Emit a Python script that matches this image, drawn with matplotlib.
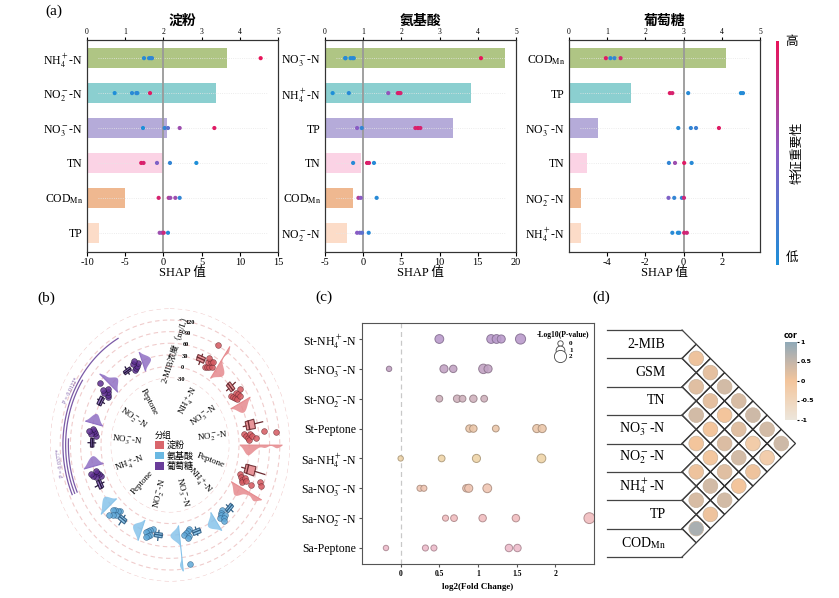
import numpy as np
import matplotlib
matplotlib.use('Agg')
import matplotlib.pyplot as plt
import matplotlib.colors as mcolors
from matplotlib.patches import Patch, Polygon

plt.rcParams['font.family'] = ['Liberation Serif', 'Noto Sans CJK SC']
plt.rcParams['mathtext.fontset'] = 'stix'
plt.rcParams['axes.linewidth'] = 0.8
plt.rcParams['axes.unicode_minus'] = False

NH4 = r'NH$_4^+$-N'
NO3 = r'NO$_3^-$-N'
NO2 = r'NO$_2^-$-N'
COD = r'COD$_{\rm Mn}$'

# ---------------- (a) SHAP data ----------------
titles_a = ['淀粉', '氨基酸', '葡萄糖']
feats_a = [[NH4, NO2, NO3, 'TN', COD, 'TP'],
           [NO3, NH4, 'TP', 'TN', COD, NO2],
           [COD, 'TP', NO3, 'TN', NO2, NH4]]
imp_a = [[3.66, 3.37, 2.10, 1.99, 1.00, 0.31],
         [4.72, 3.81, 3.35, 0.93, 0.74, 0.58],
         [4.10, 1.61, 0.76, 0.48, 0.31, 0.31]]
shap_st = [[-2.54, -1.88, -1.65, -1.49, 12.73],
           [-6.38, -4.11, -3.54, -3.41, -1.75],
           [-2.67, 0.17, 0.60, 2.13, 6.67],
           [-2.9, -2.6, -0.84, 0.86, 4.31],
           [-0.62, 0.69, 0.91, 1.56, 2.13],
           [-0.49, -0.18, 0.04, 0.60]]
fv_st = [[0.05, 0.1, 0.0, 0.1, 1.0],
         [0.0, 0.05, 0.1, 0.05, 0.95],
         [0.0, 0.1, 0.3, 0.6, 0.95],
         [0.95, 0.9, 0.45, 0.1, 0.0],
         [0.9, 0.7, 0.6, 0.6, 0.1],
         [0.6, 0.6, 0.85, 0.05]]
shap_aa = [[-2.36, -2.31, -1.66, -1.40, -1.23, 15.41],
           [-4.0, -1.88, 3.28, 4.53, 4.75, 4.88],
           [-0.80, -0.19, 6.83, 7.17, 7.48],
           [-1.32, 0.50, 0.76, 1.41],
           [-0.62, -0.32, 1.76],
           [-0.8, -0.45, -0.15, 0.72]]
fv_aa = [[0.0, 0.05, 0.0, 0.1, 0.05, 1.0],
         [0.0, 0.05, 0.55, 0.9, 0.95, 0.9],
         [0.5, 0.1, 0.9, 0.95, 0.9],
         [0.05, 0.95, 0.9, 0.05],
         [0.7, 0.5, 0.05],
         [0.5, 0.45, 0.3, 0.05]]
shap_gl = [[-4.07, -3.83, -3.62, -3.30],
           [-0.72, -0.59, 0.24, 3.0, 3.11],
           [-0.28, 0.38, 0.65, 1.85],
           [-0.77, -0.45, 0.03, 0.42],
           [-0.79, -0.49, -0.09, 0.02],
           [-0.59, -0.30, -0.23, 0.03, 0.17]]
fv_gl = [[0.95, 0.05, 0.1, 0.9],
         [0.95, 0.9, 0.05, 0.0, 0.05],
         [0.05, 0.1, 0.15, 0.95],
         [0.1, 0.6, 0.95, 0.05],
         [0.45, 0.1, 0.1, 0.85],
         [0.05, 0.0, 0.05, 0.9, 0.85]]
shap_a = [shap_st, shap_aa, shap_gl]
fv_a = [fv_st, fv_aa, fv_gl]
xlim_a = [(-10, 15), (-5, 20), (-6, 4)]
xticks_a = [[-10, -5, 0, 5, 10, 15], [-5, 0, 5, 10, 15, 20], [-4, -2, 0, 2]]
bar_cols = ['#afc584', '#8bcfd0', '#b5abd9', '#fbd3e5', '#efb890', '#fcdcc8']

# ---------------- (b) circular box/violin data ----------------
sources = ['淀粉', '氨基酸', '葡萄糖']
n_labels = [NH4, NO3, NO2, 'Peptone']
mib = [[22, 26, 30, 34, 38, 42, 45, 50, 91],
       [15, 20, 24, 28, 32, 36, 40, 48],
       [18, 22, 26, 30, 35, 40, 52, 76, 112],
       [16, 22, 26, 30, 34, 40, 56, 78, 86],
       [24, 28, 32, 36, 40, 44, 50],
       [22, 26, 30, 34, 38, 44, 110],
       [20, 24, 28, 32, 36, 40, 46],
       [22, 26, 30, 34, 38, 44, 52],
       [14, 18, 22, 26, 30, 36, 42],
       [16, 20, 24, 28, 32, 38],
       [18, 22, 26, 30, 34, 40, 58],
       [16, 20, 24, 28, 32, 38]]
src_cols = ['#d4585f', '#5fa8d8', '#5e2f91']
vio_cols = ['#e68a8e', '#87c3ea', '#9070c4']
edge_cols = ['#6b2a30', '#2f5f86', '#22143a']
sig_text = ['P = 0.0122*', 'P = 0.0377*']

# ---------------- (c) bubble data ----------------
rows_c = ['St-' + NH4, 'St-' + NO3, 'St-' + NO2, 'St-Peptone',
          'Sa-' + NH4, 'Sa-' + NO3, 'Sa-' + NO2, 'Sa-Peptone']
fc_c = [[0.50, 1.17, 1.24, 1.30, 1.55],
        [-0.15, 0.56, 0.68, 1.07, 1.13],
        [0.50, 0.73, 0.80, 0.94, 1.08],
        [0.89, 0.94, 1.23, 1.76, 1.83],
        [0.0, 0.53, 0.98, 1.82],
        [0.25, 0.30, 0.85, 0.88, 1.12],
        [0.58, 0.69, 1.06, 1.49, 2.44],
        [-0.19, 0.32, 0.43, 1.40, 1.51]]
p_c = [[1.0, 1.0, 1.0, 0.8, 1.4],
       [0.0, 0.8, 0.6, 1.2, 0.8],
       [0.4, 0.6, 0.4, 0.6, 0.4],
       [0.6, 0.6, 0.4, 0.8, 0.8],
       [0.0, 0.4, 0.8, 1.0],
       [0.2, 0.2, 0.6, 0.8, 1.0],
       [0.2, 0.4, 0.6, 0.6, 1.6],
       [0.0, 0.2, 0.2, 0.6, 0.6]]
row_cols_c = ['#b99acb', '#c2a3c4', '#d0b2bd', '#ebc7aa',
              '#efd4a8', '#f0c6b3', '#f1bdbf', '#eebccb']

# ---------------- (d) correlation data ----------------
vars_d = ['2-MIB', 'GSM', 'TN', NO3, NO2, NH4, 'TP', COD]
cor_vals = [[0.05, 0.15, 0.35, 0.3, 0.4, 0.35, 0.4],
            [0.2, 0.15, 0.0, 0.2, -0.2, -0.25],
            [0.35, 0.0, 0.25, 0.35, 0.05],
            [0.0, -0.05, 0.2, 0.0],
            [0.05, 0.35, 0.35],
            [0.3, 0.05],
            [0.75]]

W, H = 839, 598
fig = plt.figure(figsize=(W / 100, H / 100), dpi=100)


def fr(x0, y0, x1, y1):
    # pixel box (top-left origin) -> figure fraction rect
    return [x0 / W, 1 - y1 / H, (x1 - x0) / W, (y1 - y0) / H]


shap_cmap = mcolors.LinearSegmentedColormap.from_list(
    'shap', ['#1e8fd8', '#8a5cc4', '#e8145a'])

# ================= panel (a) =================
lefts = [87, 325, 569]
for k in range(3):
    ax = fig.add_axes(fr(lefts[k], 40, lefts[k] + 191, 252))
    ypos = np.arange(6)
    ax.barh(ypos, imp_a[k], height=0.57, color=bar_cols, zorder=1)
    ax.set_xlim(0, 5)
    ax.set_ylim(5.55, -0.52)
    ax.set_yticks(ypos)
    ax.set_yticklabels(feats_a[k], fontsize=8.5)
    ax.tick_params(axis='y', length=0, pad=3)
    tw = ax.twiny()
    ax.xaxis.set_ticks_position('top')
    ax.xaxis.set_label_position('top')
    ax.set_xticks(range(6))
    ax.tick_params(axis='x', labelsize=5.5, length=2, pad=1)
    ax.set_title(titles_a[k], fontsize=10, fontweight='bold', pad=1.5)
    tw.set_xlim(*xlim_a[k])
    tw.xaxis.set_ticks_position('bottom')
    tw.xaxis.set_label_position('bottom')
    tw.set_xticks(xticks_a[k])
    tw.tick_params(axis='x', labelsize=7.5, length=3, pad=1.5)
    tw.set_xlabel('SHAP 值', fontsize=9, labelpad=0)
    tw.axvline(0, color='#999999', lw=1.3, zorder=2)
    for r in range(6):
        tw.axhline(r, xmin=0.06, xmax=0.95, color='#e6e6e6', lw=0.6, ls=':', zorder=1)
        tw.scatter(shap_a[k][r], [r] * len(shap_a[k][r]), c=fv_a[k][r],
                   cmap=shap_cmap, vmin=0, vmax=1, s=9, zorder=3, linewidths=0)
    for ssp in list(ax.spines.values()) + list(tw.spines.values()):
        ssp.set_color('#333333')

# colour bar line for feature value
cax_a = fig.add_axes(fr(776, 41, 779, 265))
cax_a.imshow(np.linspace(1, 0, 200)[:, None], aspect='auto', cmap=shap_cmap)
cax_a.axis('off')
fig.text(792 / W, 1 - 42 / H, '高', fontsize=9, ha='center', va='center')
fig.text(792 / W, 1 - 258 / H, '低', fontsize=9, ha='center', va='center')
fig.text(798 / W, 1 - 153 / H, '特征重要性', fontsize=9, rotation=90,
         ha='center', va='center')
fig.text(45 / W, 1 - 11 / H, '(a)', fontsize=11, ha='left', va='center')

# ================= panel (b) =================
cx_b, cy_b = 170, 445
axb = fig.add_axes(fr(cx_b - 120, cy_b - 136.6, cx_b + 120, cy_b + 136.6), projection='polar')
axb.set_theta_zero_location('N')
axb.set_theta_direction(-1)
axb.set_ylim(-30, 150)
axb.set_rorigin(-203)
axb.set_aspect('auto')
axb.axis('off')
full = np.linspace(0, 2 * np.pi, 400)
for v in range(-30, 151, 30):
    axb.plot(full, np.full_like(full, v), color='#f0cccc', lw=0.8, ls=(0, (4, 3)), zorder=0)

slot = 360 / 13
for g in range(12):
    s = g // 4
    vals = np.array(mib[g], dtype=float)
    cdeg = (g + 1) * slot
    # box
    q1, med, q3 = np.percentile(vals, [25, 50, 75])
    iqr = q3 - q1
    lo = vals[vals >= q1 - 1.5 * iqr].min()
    hi = vals[vals <= q3 + 1.5 * iqr].max()
    tb = np.deg2rad(cdeg - 5.5)
    wb = np.deg2rad(5.5)
    axb.bar(tb, q3 - q1, bottom=q1, width=wb, color=vio_cols[s], alpha=0.9,
            edgecolor=edge_cols[s], linewidth=0.8, zorder=3)
    axb.plot([tb - wb / 2, tb + wb / 2], [med, med], color=edge_cols[s], lw=1.0, zorder=4)
    axb.plot([tb, tb], [lo, q1], color=edge_cols[s], lw=0.9, zorder=3)
    axb.plot([tb, tb], [q3, hi], color=edge_cols[s], lw=0.9, zorder=3)
    # points
    jit = np.array([((i * 37) % 7 - 3) * 0.7 for i in range(len(vals))])
    axb.scatter(np.deg2rad(cdeg + 1.5 + jit), vals, s=17, color=src_cols[s],
                edgecolors=edge_cols[s], linewidths=0.4, alpha=0.85, zorder=5)
    # half violin
    bw = 9.0
    grid = np.linspace(vals.min() - 1.6 * bw, vals.max() + 1.6 * bw, 120)
    dens = np.exp(-0.5 * ((grid[:, None] - vals[None, :]) / bw) ** 2).sum(1)
    dens = dens / dens.max()
    base = np.deg2rad(cdeg + 7)
    tv = base + np.deg2rad(6.5) * dens
    axb.fill(np.r_[np.full_like(grid, base), tv[::-1]], np.r_[grid, grid[::-1]],
             color=vio_cols[s], alpha=0.85, lw=0, zorder=2)
    axb.plot([base, base], [grid[0], grid[-1]], color=vio_cols[s], lw=0.8, zorder=2)
    # inner label
    rot = 90 - cdeg
    if rot < -90:
        rot += 180
    axb.text(np.deg2rad(cdeg - 2), -76, n_labels[g % 4], fontsize=6.5, rotation=rot,
             rotation_mode='anchor', ha='center', va='center')

# radial axis text
for v in range(-30, 121, 30):
    axb.text(np.deg2rad(10.5), v, str(v), fontsize=4.5, fontweight='bold',
             ha='center', va='center')
axb.text(np.deg2rad(3.5), 50, '2-MIB浓度（ng/L）', fontsize=6.2, rotation=72,
         ha='center', va='center')

# significance arcs
for val, a0, a1 in [(112, 246, 331), (104, 246, 303), (96, 246, 273)]:
    th = np.deg2rad(np.linspace(a0, a1, 80))
    axb.plot(th, np.full_like(th, val), color='#7b5aa6', lw=0.9, zorder=1)
for t, a, val in zip(sig_text, [296, 262], [121, 121]):
    axb.text(np.deg2rad(a), val, t, fontsize=4.2, color='#7b5aa6',
             rotation=360 - a, ha='center', va='center')

handles = [Patch(facecolor=c, edgecolor='none') for c in ['#d9666c', '#6ab8e2', '#6a3d9a']]
leg = fig.legend(handles, sources, title='分组', loc='center',
                 bbox_to_anchor=(174 / W, 1 - 451 / H), fontsize=6.5,
                 title_fontsize=6, frameon=False, handlelength=1.0, handleheight=0.9,
                 handletextpad=0.3, labelspacing=0.15, borderpad=0.1)
leg._legend_box.align = 'left'
fig.text(37 / W, 1 - 298 / H, '(b)', fontsize=11, ha='left', va='center')

# ================= panel (c) =================
axc = fig.add_axes(fr(362, 323, 594, 564))


def psize(p):
    r = 2.7 + 1.7 * np.asarray(p)
    return (1.44 * r) ** 2


for i in range(8):
    base_c = np.array(mcolors.to_rgb(row_cols_c[i]))
    axc.scatter(fc_c[i], [i] * len(fc_c[i]), s=psize(p_c[i]), color=row_cols_c[i],
                edgecolors=base_c * 0.72, linewidths=0.7, alpha=0.9, zorder=3)
axc.axvline(0, color='#c8c8c8', lw=0.9, ls=(0, (4, 3)), zorder=1)
axc.set_xlim(-0.5, 2.5)
axc.set_ylim(7.536, -0.536)
axc.set_xticks([0, 0.5, 1, 1.5, 2])
axc.set_xticklabels(['0', '0.5', '1', '1.5', '2'], fontsize=5.5, fontweight='bold')
axc.set_yticks(range(8))
axc.set_yticklabels(rows_c, fontsize=8.5)
axc.tick_params(length=2, pad=2, color='#555555')
axc.set_xlabel('log2(Fold Change)', fontsize=6.5, fontweight='bold', labelpad=4)
for ssp in axc.spines.values():
    ssp.set_color('#555555')
lh = [axc.scatter([], [], s=psize(p), facecolor='white', edgecolor='#444444', linewidths=0.6)
      for p in [0, 1, 2]]
lc = axc.legend(lh, ['0', '1', '2'], title='-Log10(P-value)', loc='upper right',
                bbox_to_anchor=(1.0, 0.985), frameon=False, fontsize=5,
                title_fontsize=5.5, labelspacing=0.1, handletextpad=0.3, borderpad=0.2)
lc.get_title().set_fontweight('bold')
for t in lc.get_texts():
    t.set_fontweight('bold')
fig.text(315 / W, 1 - 297 / H, '(c)', fontsize=11, ha='left', va='center')

# ================= panel (d) =================
cor_cmap = mcolors.LinearSegmentedColormap.from_list(
    'cor', ['#ece6dc', '#f0d6bc', '#f3c59c', '#c4b6aa', '#8fa9b8'])
axd = fig.add_axes(fr(605.5, 327.2, 798.3, 559.8))
axd.set_xlim(-2.7, 4.1)
axd.set_ylim(-7.6, 0.6)
axd.axis('off')
for k in range(9):
    axd.plot([-2.65, 0], [0.5 - k, 0.5 - k], color='#444444', lw=0.9)
for i in range(8):
    axd.plot([0, 0.5, 0], [-i + 0.5, -i, -i - 0.5], color='#444444', lw=0.9)
    axd.text(-0.58, -i, vars_d[i], fontsize=10, ha='right', va='center')
xs, ys, cs = [], [], []
for i in range(7):
    for k, v in enumerate(cor_vals[i]):
        j = i + 1 + k
        ccx, ccy = (j - i) * 0.5, -(i + j) / 2
        axd.add_patch(Polygon([(ccx - 0.5, ccy), (ccx, ccy + 0.5), (ccx + 0.5, ccy),
                               (ccx, ccy - 0.5)], closed=True, fill=False,
                              ec='#333333', lw=0.9))
        xs.append(ccx)
        ys.append(ccy)
        cs.append(v)
axd.scatter(xs, ys, c=cs, cmap=cor_cmap, vmin=-1, vmax=1, s=112,
            edgecolors='#c9b49e', linewidths=0.5, zorder=3)
cax_d = fig.add_axes(fr(785, 342, 797, 420))
sm = plt.cm.ScalarMappable(cmap=cor_cmap, norm=mcolors.Normalize(-1, 1))
cb = fig.colorbar(sm, cax=cax_d)
cb.outline.set_visible(False)
cb.set_ticks([-1, -0.5, 0, 0.5, 1])
cb.set_ticklabels(['-1', '-0.5', '0', '0.5', '1'])
cax_d.tick_params(labelsize=4.5, length=1.5, pad=1)
for t in cax_d.get_yticklabels():
    t.set_fontfamily('DejaVu Sans')
    t.set_fontweight('bold')
cax_d.set_title('cor', fontsize=5.5, fontweight='bold', family='DejaVu Sans', pad=3)
fig.text(592 / W, 1 - 297 / H, '(d)', fontsize=11, ha='left', va='center')

fig.savefig('out.png', dpi=100)
